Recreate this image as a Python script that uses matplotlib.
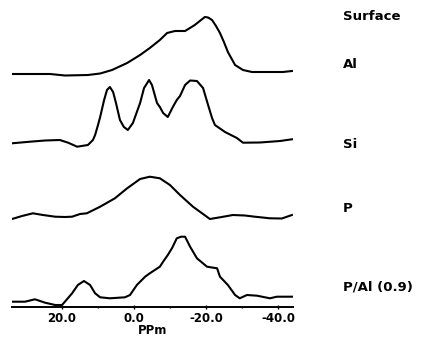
import matplotlib
matplotlib.use("Agg")
import matplotlib.pyplot as plt
from matplotlib.ticker import FixedLocator

# ---- data (chemical shift in ppm, intensity in arbitrary units) ----
al_ppm = [33.9, 28.9, 23.3, 19.2, 12.8, 9.4, 6.1, 1.9, -1.7, -4.4, -7.2, -9.2, -11.4, -14.2,
          -16.9, -18.3, -19.7, -20.6, -21.7, -22.8, -23.9, -25.0, -26.1, -28.1, -30.3, -32.8,
          -37.8, -41.4, -43.9]
al_int = [0, 0, 0, -1.5, -1, 0.5, 4, 11, 19, 26, 34, 41, 43, 43, 49, 53, 57, 56.5, 54, 48, 41,
          32, 22, 9, 4, 2, 2, 2, 3]

si_ppm = [33.9, 28.9, 24.7, 20.6, 18.3, 15.8, 12.8, 11.4, 10.8, 10.0, 9.4, 8.3, 7.5, 6.7, 5.8,
          5.0, 3.9, 2.8, 1.7, 0.3, -0.8, -1.7, -2.8, -4.2, -5.0, -6.4, -7.2, -8.1, -9.4, -10.8,
          -11.9, -12.8, -14.2, -15.6, -17.5, -19.2, -20.6, -21.7, -22.5, -25.3, -28.6, -30.3,
          -35.0, -40.6, -43.9]
si_int = [-1.3, 0.3, 1.5, 2, -0.7, -4.7, -3, 2, 7, 17, 25, 42, 52, 55, 50, 39, 22, 15, 12, 19,
          30, 39, 54, 62, 57, 39, 35, 29, 25, 35, 42, 46, 57, 61.5, 61, 54, 37, 24, 17, 10, 4,
          -0.7, -0.5, 1, 2.7]

p_ppm = [33.9, 31.1, 28.1, 25.3, 21.9, 19.2, 17.2, 15.0, 13.1, 9.4, 5.3, 1.9, -1.7, -4.4, -7.2,
         -10.0, -12.8, -16.4, -19.2, -21.1, -24.4, -27.5, -30.8, -33.6, -37.8, -41.1, -43.9]
p_int = [-2, 1, 3.7, 2, 0.3, 0, 0.3, 3, 3.7, 10.3, 18.7, 28.7, 38, 40.3, 38.7, 32, 22, 10.3, 3,
         -2, 0, 2, 1.5, 0.3, -1.3, -1.5, 2]

pal_ppm = [33.9, 30.3, 27.5, 24.7, 21.9, 20.0, 19.2, 17.2, 15.6, 13.9, 12.2, 10.8, 9.4, 6.7, 2.5,
           1.1, -0.8, -3.1, -4.4, -5.8, -7.2, -8.1, -9.4, -10.6, -11.9, -13.1, -14.2, -15.6,
           -17.5, -20.3, -23.1, -23.9, -26.1, -28.1, -29.4, -31.4, -34.2, -37.8, -39.7, -43.9]
pal_int = [0.3, 0.3, 2.7, -0.7, -3, -3, 0.3, 8.7, 17, 21, 17, 8.7, 4.7, 3.7, 4.7, 7, 17, 25.3,
           28.7, 32, 35.3, 40.3, 47, 54, 63.7, 65.3, 65.3, 55.3, 43.7, 35.3, 33.7, 25.3, 17, 7,
           3.7, 7, 6.3, 3.7, 5.3, 5.3]

labels = ["Al", "Si", "P", "P/Al (0.9)"]
title = "Surface"
major_ticks = [20, 0, -20, -40]
tick_labels = ["20.0", "0.0", "-20.0", "-40.0"]
minor_ticks = [10, -10, -30]

# ---- figure ----
W, H = 427, 337
fig = plt.figure(figsize=(W / 100, H / 100), dpi=100)
ax = fig.add_axes([12 / W, (H - 307) / H, (293 - 12) / W, 307 / H])

series = [(al_ppm, al_int), (si_ppm, si_int), (p_ppm, p_int), (pal_ppm, pal_int)]
offsets = [233, 165, 90, 5]
for (x, y), off in zip(series, offsets):
    ax.plot(x, [v + off for v in y], color="black", lw=1.5, solid_joinstyle="round")

ax.set_xlim(33.9, -44.2)
ax.set_ylim(0, 307)
for s in ["top", "right", "left"]:
    ax.spines[s].set_visible(False)
ax.spines["bottom"].set_linewidth(1.4)
ax.set_yticks([])
ax.xaxis.set_major_locator(FixedLocator(major_ticks))
ax.xaxis.set_minor_locator(FixedLocator(minor_ticks))
ax.set_xticklabels(tick_labels, fontsize=8.5, fontweight="bold", family="DejaVu Sans")
ax.tick_params(axis="x", which="major", length=2.5, width=1, direction="inout", pad=2.5)
ax.tick_params(axis="x", which="minor", length=2, width=1, direction="inout")
ax.set_xlabel("PPm", fontsize=8.5, fontweight="bold", family="DejaVu Sans", labelpad=-1)

txt = dict(fontsize=9.5, fontweight="bold", family="DejaVu Sans", va="center", ha="left")
fig.text(343 / W, 1 - 17 / H, title, **txt)
for lab, ypx in zip(labels, [65, 145, 208, 287]):
    fig.text(343 / W, 1 - ypx / H, lab, **txt)

fig.savefig("out.png", dpi=100)
